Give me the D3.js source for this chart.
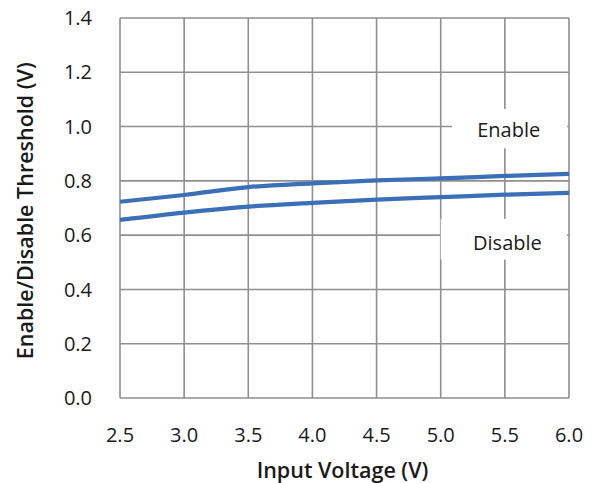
<!DOCTYPE html>
<html>
<head>
<meta charset="utf-8">
<script src="https://cdn.jsdelivr.net/npm/d3@7"></script>
<style>
  body { margin: 0; background: #fff; }
  text { font-family: "Open Sans", "Noto Sans", sans-serif; fill: #1a1a1a; }
</style>
</head>
<body>
<div id="chart"></div>
<script>
// data
var voltage = [2.5, 3.0, 3.5, 4.0, 4.5, 5.0, 5.5, 6.0];
var enableV = [0.723, 0.748, 0.777, 0.791, 0.802, 0.809, 0.818, 0.826];
var disableV = [0.656, 0.683, 0.705, 0.719, 0.731, 0.740, 0.749, 0.756];
var xTicks = [2.5, 3.0, 3.5, 4.0, 4.5, 5.0, 5.5, 6.0];
var yTicks = [0.0, 0.2, 0.4, 0.6, 0.8, 1.0, 1.2, 1.4];

var W = 594, H = 483;
var margin = {top: 18, right: 25, bottom: 85, left: 120};
var width = W - margin.left - margin.right,
    height = H - margin.top - margin.bottom;

var svg = d3.select("#chart").append("svg")
    .attr("width", W).attr("height", H)
  .append("g")
    .attr("transform", "translate(" + margin.left + "," + margin.top + ")");

var x = d3.scaleLinear().domain([2.5, 6.0]).range([0, width]);
var y = d3.scaleLinear().domain([0, 1.4]).range([height, 0]);

// grid
svg.append("g").selectAll("line").data(xTicks).enter().append("line")
    .attr("x1", function(d) { return x(d); }).attr("x2", function(d) { return x(d); })
    .attr("y1", 0).attr("y2", height)
    .attr("stroke", "#8f8f8f").attr("stroke-width", 1.6);
svg.append("g").selectAll("line").data(yTicks).enter().append("line")
    .attr("y1", function(d) { return y(d); }).attr("y2", function(d) { return y(d); })
    .attr("x1", 0).attr("x2", width)
    .attr("stroke", "#8f8f8f").attr("stroke-width", 1.6);

// tick labels
svg.append("g").selectAll("text").data(yTicks).enter().append("text")
    .attr("x", -28).attr("y", function(d) { return y(d); })
    .attr("dy", "0.36em").attr("text-anchor", "end")
    .style("font-size", "20px")
    .text(function(d) { return d3.format(".1f")(d); });
svg.append("g").selectAll("text").data(xTicks).enter().append("text")
    .attr("x", function(d) { return x(d); }).attr("y", height + 44)
    .attr("text-anchor", "middle")
    .style("font-size", "20px")
    .text(function(d) { return d3.format(".1f")(d); });

// curves
var line = d3.line().curve(d3.curveMonotoneX)
    .x(function(d) { return x(d[0]); })
    .y(function(d) { return y(d[1]); });
[enableV, disableV].forEach(function(s) {
  svg.append("path")
    .datum(d3.zip(voltage, s))
    .attr("d", line)
    .attr("fill", "none")
    .attr("stroke", "#3b6fb8")
    .attr("stroke-width", 4.2);
});

// labels with white boxes covering the grid
var labels = [
  {text: "Enable", v: 5.53, val: 0.963, x0: 5.09, x1: 5.985, y0: 1.065, y1: 0.92},
  {text: "Disable", v: 5.52, val: 0.545, x0: 5.0, x1: 5.985, y0: 0.66, y1: 0.51}
];
labels.forEach(function(l) {
  svg.append("rect")
    .attr("x", x(l.x0)).attr("y", y(l.y0))
    .attr("width", x(l.x1) - x(l.x0)).attr("height", y(l.y1) - y(l.y0))
    .attr("fill", "#fff");
  svg.append("text")
    .attr("x", x(l.v)).attr("y", y(l.val))
    .attr("text-anchor", "middle")
    .style("font-size", "20px")
    .text(l.text);
});

// axis titles
svg.append("text")
    .attr("x", width / 2 - 2).attr("y", height + 80)
    .attr("text-anchor", "middle")
    .style("font-size", "21.5px").style("font-weight", "600")
    .text("Input Voltage (V)");
svg.append("text")
    .attr("transform", "translate(" + (-95) + "," + (y(0.69)) + ") rotate(-90)")
    .attr("dy", "0.35em")
    .attr("text-anchor", "middle")
    .style("font-size", "21.5px").style("font-weight", "600")
    .text("Enable/Disable Threshold (V)");
</script>
</body>
</html>
